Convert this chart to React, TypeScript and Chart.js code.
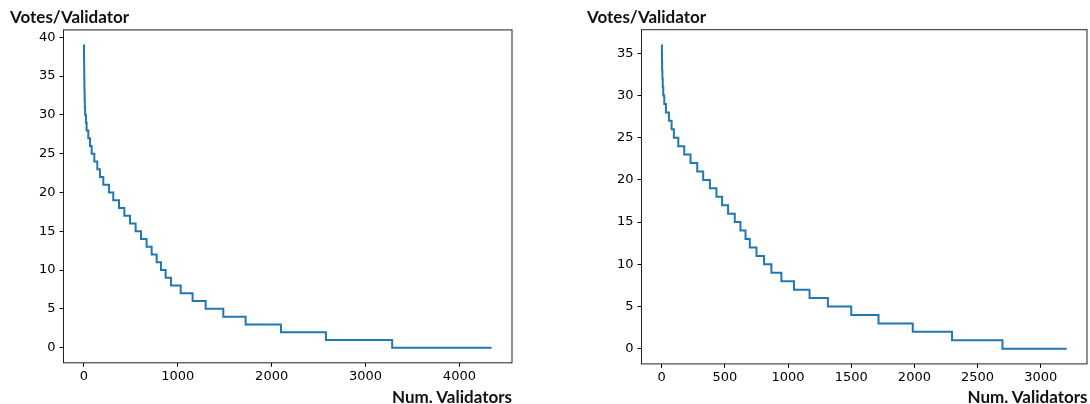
import React, { useEffect, useRef } from "react";
import { Chart, registerables } from "chart.js";

Chart.register(...registerables);

// ---------- data ----------
const leftValidators = [
  0, 1, 2, 3, 4, 5, 6, 8, 10, 13,
  22, 29, 47, 65, 83, 111, 143, 171, 207, 267,
  313, 374, 431, 491, 551, 608, 668, 722, 775, 821,
  871, 928, 1031, 1158, 1297, 1485, 1723, 2099, 2578, 3284,
  4343,
];
const leftVotes = [
  39, 38, 37, 36, 35, 34, 33, 32, 31, 30,
  29, 28, 27, 26, 25, 24, 23, 22, 21, 20,
  19, 18, 17, 16, 15, 14, 13, 12, 11, 10,
  9, 8, 7, 6, 5, 4, 3, 2, 1, 0,
  0,
];
const leftXTicks = [0, 1000, 2000, 3000, 4000];
const leftYTicks = [0, 5, 10, 15, 20, 25, 30, 35, 40];

const rightValidators = [
  0, 1, 2, 3, 5, 8, 12, 20, 33, 57,
  78, 96, 131, 178, 228, 281, 328, 381, 433, 478,
  525, 578, 623, 663, 697, 750, 810, 868, 947, 1047,
  1170, 1315, 1500, 1716, 1987, 2298, 2697, 3206,
];
const rightVotes = [
  36, 35, 34, 33, 32, 31, 30, 29, 28, 27,
  26, 25, 24, 23, 22, 21, 20, 19, 18, 17,
  16, 15, 14, 13, 12, 11, 10, 9, 8, 7,
  6, 5, 4, 3, 2, 1, 0, 0,
];
const rightXTicks = [0, 500, 1000, 1500, 2000, 2500, 3000];
const rightYTicks = [0, 5, 10, 15, 20, 25, 30, 35];

const yAxisTitle = "Votes/Validator";
const xAxisTitle = "Num. Validators";

// ---------- helpers ----------
const LINE_COLOR = "#1f77b4";
const TICK_FONT = { family: "'DejaVu Sans', sans-serif", size: 13 };
const Y_W = 50;
const X_H = 30;
const CW = 545;
const CH = 404;

function withMargin(values: number[]): [number, number] {
  const mn = Math.min(...values);
  const mx = Math.max(...values);
  const pad = (mx - mn) * 0.05;
  return [mn - pad, mx + pad];
}

const framePlugin = {
  id: "frame",
  afterDraw(chart: any) {
    const { ctx, chartArea: a } = chart;
    ctx.save();
    ctx.strokeStyle = "#222";
    ctx.lineWidth = 1;
    ctx.strokeRect(a.left, a.top, a.right - a.left, a.bottom - a.top);
    ctx.restore();
  },
};

type Area = { left: number; right: number; top: number; bottom: number };

function Panel(props: {
  validators: number[];
  votes: number[];
  xTicks: number[];
  yTicks: number[];
  area: Area;
  offsetX: number;
}) {
  const ref = useRef<HTMLCanvasElement | null>(null);
  const { validators, votes, xTicks, yTicks, area, offsetX } = props;

  useEffect(() => {
    if (!ref.current) return;
    const [xMin, xMax] = withMargin(validators);
    const [yMin, yMax] = withMargin(votes);
    const gridCfg = {
      display: true,
      drawOnChartArea: false,
      drawTicks: true,
      tickLength: 4,
      color: "#000",
      lineWidth: 1,
    };
    const chart = new Chart(ref.current, {
      type: "line",
      data: {
        datasets: [
          {
            data: validators.map((x, i) => ({ x, y: votes[i] })),
            borderColor: LINE_COLOR,
            borderWidth: 2,
            pointRadius: 0,
            stepped: "before",
            fill: false,
            tension: 0,
          },
        ],
      },
      options: {
        animation: false,
        responsive: false,
        maintainAspectRatio: false,
        layout: {
          padding: {
            left: area.left - Y_W,
            right: CW - area.right,
            top: area.top,
            bottom: CH - area.bottom - X_H,
          },
        },
        plugins: { legend: { display: false }, tooltip: { enabled: false } },
        scales: {
          x: {
            type: "linear",
            min: xMin,
            max: xMax,
            afterBuildTicks: (ax: any) => {
              ax.ticks = xTicks.map((v) => ({ value: v }));
            },
            afterFit: (s: any) => {
              s.height = X_H;
            },
            grid: gridCfg,
            border: { display: false },
            ticks: {
              font: TICK_FONT,
              color: "#000",
              padding: 2,
              maxRotation: 0,
              autoSkip: false,
              callback: (v: any) => String(v),
            },
          },
          y: {
            type: "linear",
            min: yMin,
            max: yMax,
            afterBuildTicks: (ax: any) => {
              ax.ticks = yTicks.map((v) => ({ value: v }));
            },
            afterFit: (s: any) => {
              s.width = Y_W;
            },
            grid: gridCfg,
            border: { display: false },
            ticks: {
              font: TICK_FONT,
              color: "#000",
              padding: 4,
              autoSkip: false,
              callback: (v: any) => String(v),
            },
          },
        },
      },
      plugins: [framePlugin],
    } as any);
    return () => chart.destroy();
  }, []);

  return (
    <canvas
      ref={ref}
      width={CW}
      height={CH}
      style={{ position: "absolute", left: offsetX, top: 0, width: CW, height: CH }}
    />
  );
}

const titleStyle: React.CSSProperties = {
  position: "absolute",
  fontFamily: "Lato, 'Open Sans', sans-serif",
  fontWeight: 700,
  fontSize: 17,
  lineHeight: "20px",
  color: "#111",
  whiteSpace: "nowrap",
};

export default function App() {
  return (
    <div
      style={{
        position: "absolute",
        left: 0,
        top: 0,
        width: 1090,
        height: 404,
        background: "#fff",
        overflow: "hidden",
      }}
    >
      <Panel
        validators={leftValidators}
        votes={leftVotes}
        xTicks={leftXTicks}
        yTicks={leftYTicks}
        area={{ left: 63.5, right: 512, top: 29.9, bottom: 362.8 }}
        offsetX={0}
      />
      <Panel
        validators={rightValidators}
        votes={rightVotes}
        xTicks={rightXTicks}
        yTicks={rightYTicks}
        area={{ left: 96.5, right: 542, top: 29.7, bottom: 363.9 }}
        offsetX={545}
      />
      <div style={{ ...titleStyle, left: 10, top: 7 }}>{yAxisTitle}</div>
      <div style={{ ...titleStyle, left: 587, top: 7 }}>{yAxisTitle}</div>
      <div style={{ ...titleStyle, right: 1090 - 512, top: 387 }}>{xAxisTitle}</div>
      <div style={{ ...titleStyle, right: 1090 - 1087.5, top: 387 }}>{xAxisTitle}</div>
    </div>
  );
}
